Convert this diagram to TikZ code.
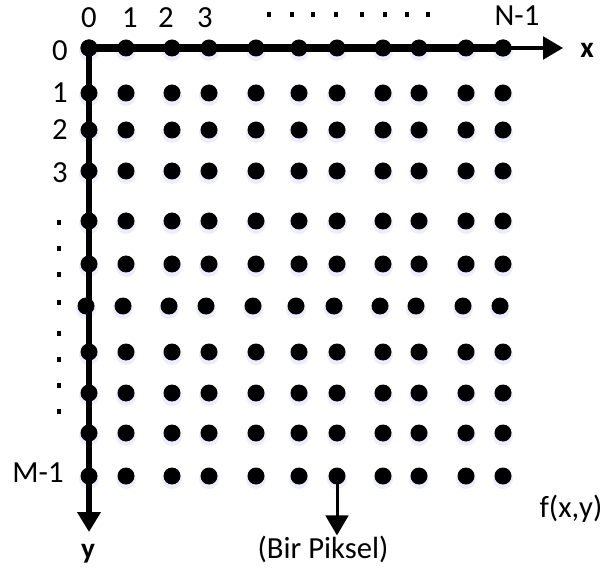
\documentclass[tikz,border=0pt]{standalone}
\usepackage{fontspec}
\setmainfont{Carlito}
\usetikzlibrary{arrows.meta, positioning}

\begin{document}
\begin{tikzpicture}[
    x=0.75pt, y=-0.75pt,
    pixelDot/.style={circle, fill=black, inner sep=0pt, minimum size=12.75pt},
    dotGlow/.style={circle, fill=blue!7, inner sep=0pt, minimum size=15pt},
    axisLabel/.style={font=\fontsize{23}{27}\selectfont, inner sep=0pt},
    axisName/.style={font=\fontsize{22}{26}\selectfont\bfseries, inner sep=0pt},
    axisRel/.style={-{Triangle[length=15pt, width=17pt]}, black}
]
    \useasboundingbox (0,0) rectangle (603,570);

    % Pixel grid (the middle row sits a little to the left)
    \foreach \yy [count=\r from 0] in {48,93,130,171,221,264,306,352,393,433,476}
        \foreach \xx [count=\c from 0] in {89,126,172,209,256,299,337,383,419,466,503} {
            \pgfmathsetmacro\dx{ifthenelse(\r==6,-3,0)}
            \node[dotGlow] at (\xx+\dx,\yy+3) {};
        }

    % Axes
    \coordinate (xEnd) at (563,48);
    \coordinate (yEnd) at (89,532);

    \foreach \yy [count=\r from 0] in {48,93,130,171,221,264,306,352,393,433,476}
        \foreach \xx [count=\c from 0] in {89,126,172,209,256,299,337,383,419,466,503} {
            \pgfmathsetmacro\dx{ifthenelse(\r==6,-3,0)}
            \node[pixelDot] (d-\r-\c) at (\xx+\dx,\yy) {};
        }

    \draw[line width=6pt] (d-0-0.center) -- (d-0-10.center);
    \draw[axisRel, line width=2.5pt] (d-0-10.center) -- (xEnd);
    \draw[axisRel, line width=4pt] (d-0-0.center) -- (yEnd);
    \node[pixelDot] at (d-0-0) {};
    \node[pixelDot] at (d-0-10) {};

    % Column and row numbers
    \foreach \xx/\t [count=\i] in {89/0, 130/1, 166/2, 205/3}
        \node[axisLabel] (colLbl\i) at (\xx,18) {\t};
    \node[axisLabel] (colLast) at (517,16) {N-1};
    \foreach \yy/\t [count=\i] in {51/0, 93/1, 130/2, 173/3}
        \node[axisLabel] (rowLbl\i) at (60,\yy) {\t};
    \node[axisLabel] (rowLast) at (38,473) {M-1};

    % Ellipsis marks
    \foreach \xx in {269,292,313,336,362,385,407,428}
        \fill (\xx-2,12) rectangle +(4,5);
    \foreach \yy in {223,249,275,302,333,359,385,411}
        \fill (57,\yy-2.5) rectangle +(4,5);

    % Axis names and labels
    \node[axisName] (xName) at (587,50) {x};
    \node[axisName] (yName) at (88,554) {y};
    \node[axisLabel] (fxy) at (571,509) {f(x,y)};
    \node[axisLabel] (pixel) at (323,549) {(Bir Piksel)};
    \draw[axisRel, line width=2.25pt] (d-10-6.center) -- (d-10-6 |- pixel.north);
\end{tikzpicture}
\end{document}
